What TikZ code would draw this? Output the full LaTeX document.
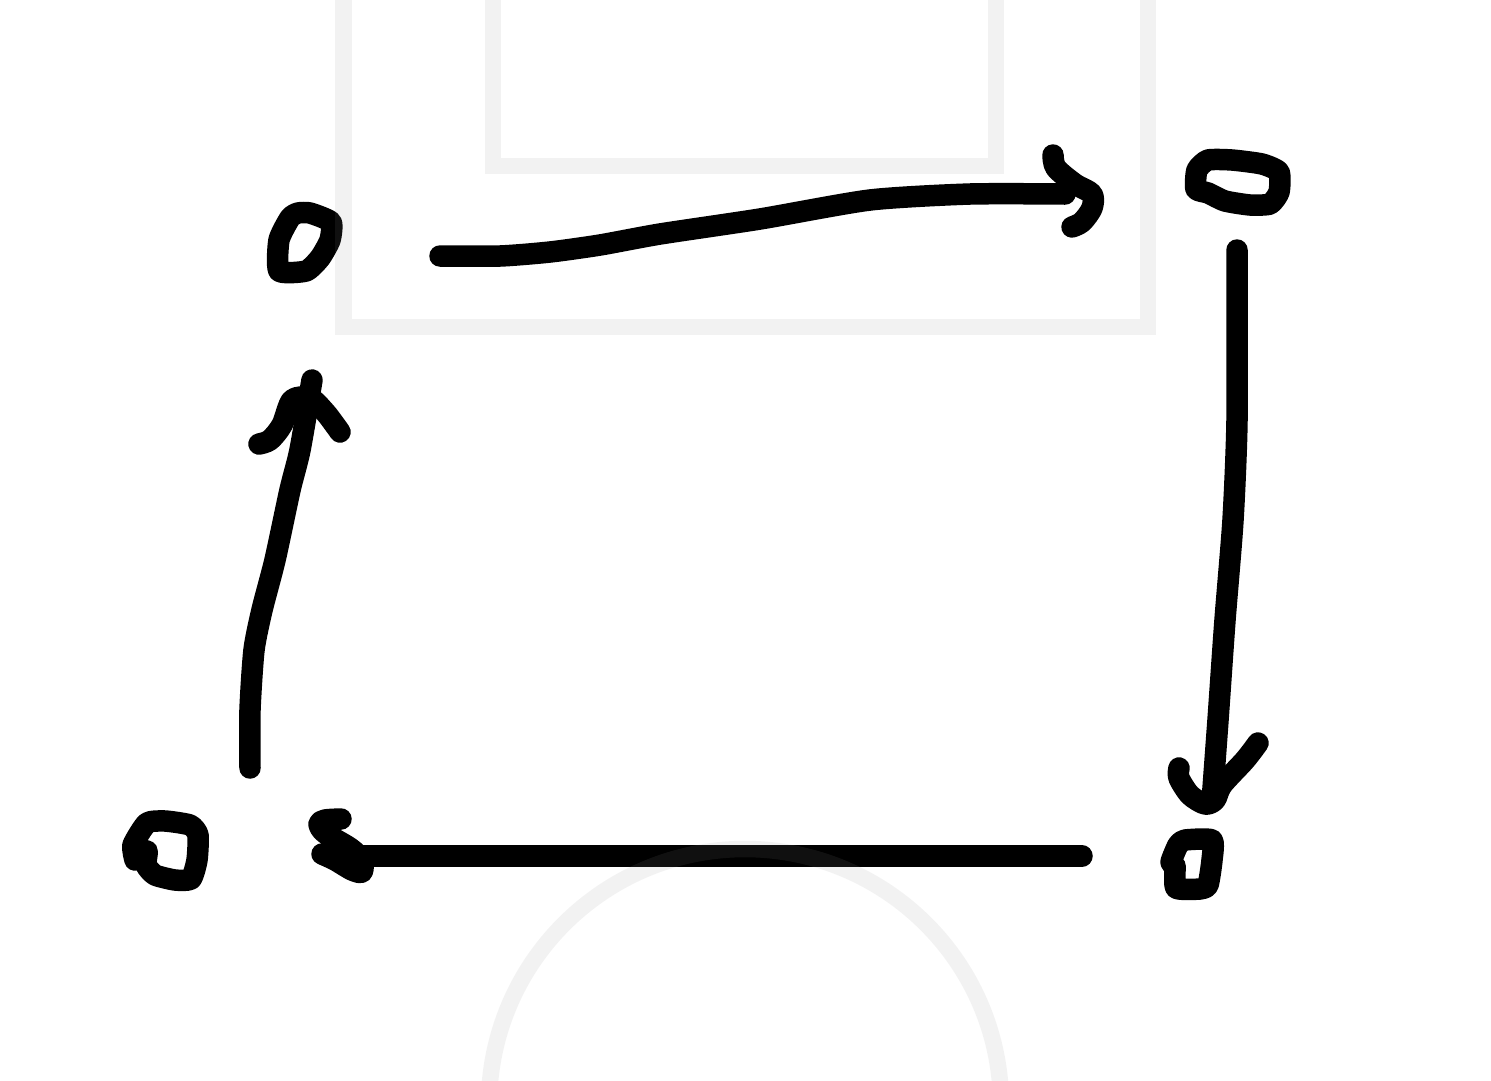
\documentclass[tikz,border=0pt]{standalone}
\usepackage{tikz}
\definecolor{courtgrey}{HTML}{959595}

\begin{document}
\begin{tikzpicture}[
    x=1pt,y=-1pt,
    court/.style={draw=courtgrey,draw opacity=.114,line width=16.5pt},
    ink/.style={draw=black,line width=21.5pt,line cap=round,line join=round},
  ]
    \useasboundingbox (0,0) rectangle (1491,1080);
    \fill[white] (0,0) rectangle (1491,1080);
    % spots
    \draw[ink] plot[smooth cycle,tension=.35] coordinates {(279,271) (279,240) (290,218) (298,213) (310,213) (331,222) (330,240) (320,258) (306,271)};
    \draw[ink] plot[smooth cycle,tension=.35] coordinates {(1196,189) (1197,170) (1208,160) (1232,160) (1262,164) (1279,172) (1279,192) (1270,204) (1250,205) (1225,201) (1208,193)};
    \draw[ink] plot[smooth cycle,tension=.35] coordinates {(1176,888) (1175,866) (1171,862) (1178,845) (1185,840) (1212,840) (1212,860) (1208,885) (1200,889)};
    \draw[ink] plot[smooth,tension=.35] coordinates {(135,860) (133,845) (147,823) (165,821) (190,825) (198,835) (197,860) (191,879) (175,880) (155,875) (146,865) (147,851) (135,860)};
    % top
    \draw[ink] plot[smooth,tension=.4] coordinates {(440,256) (500,256) (550,252) (600,245) (660,234) (760,219) (870,200) (970,194) (1065,194)};
    \draw[ink] plot[smooth] coordinates {(1053,155) (1056,168) (1075,184) (1092,194) (1092,208) (1082,222) (1072,227)};
    % right
    \draw[ink] plot[smooth,tension=.4] coordinates {(1237,250) (1237,420) (1233,520) (1225,620) (1218,720) (1212,802)};
    \draw[ink] plot[smooth] coordinates {(1179,768) (1179,778) (1190,795) (1205,804) (1215,800) (1222,785) (1245,760) (1258,743)};
    % bottom
    \draw[ink] (1082,856) -- (350,856);
    \draw[ink] plot[smooth] coordinates {(341,819) (325,820) (319,824) (325,833) (350,848) (362,860) (362,872) (352,870) (335,860) (322,854)};
    % left
    \draw[ink] plot[smooth,tension=.4] coordinates {(250,768) (250,710) (254,650) (262,610) (275,560) (290,490) (300,450) (312,380)};
    \draw[ink] plot[smooth] coordinates {(259,444) (270,440) (282,425) (292,400) (310,398) (325,412) (335,425) (340,432)};
    % court lines lie over the ink
    \begin{scope}
      \clip (0,0) rectangle (1491,1080);
      \draw[court] (343.5,-20) -- (343.5,327) -- (1148,327) -- (1148,-20);
      \draw[court] (493,-20) -- (493,166) -- (996,166) -- (996,-20);
      \draw[court] (745,1105) circle[radius=256];
    \end{scope}
\end{tikzpicture}
\end{document}
